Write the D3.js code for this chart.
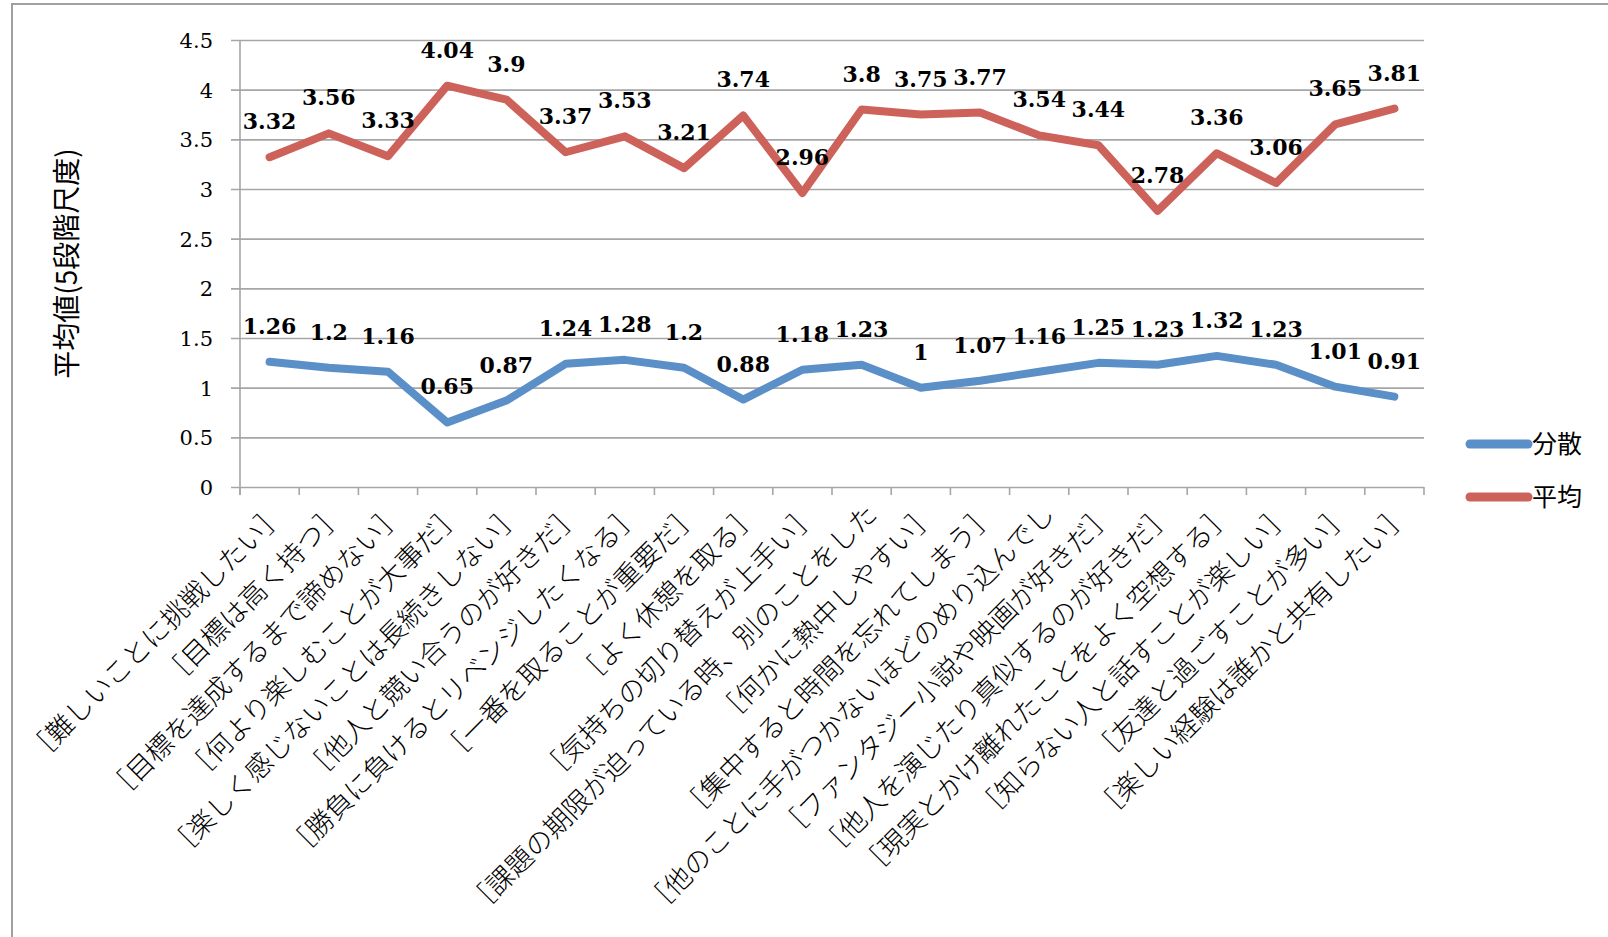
<!DOCTYPE html>
<html>
<head>
<meta charset="utf-8">
<script src="https://cdn.jsdelivr.net/npm/d3@7/dist/d3.min.js"></script>
<style>
  html, body { margin: 0; padding: 0; background: #ffffff; }
  svg { display: block; }
</style>
</head>
<body>
<svg id="chart" width="1608" height="937"></svg>
<script>
// Survey items (5-point scale)
const categories = [
  "［難しいことに挑戦したい］",
  "［目標は高く持つ］",
  "［目標を達成するまで諦めない］",
  "［何より楽しむことが大事だ］",
  "［楽しく感じないことは長続きしない］",
  "［他人と競い合うのが好きだ］",
  "［勝負に負けるとリベンジしたくなる］",
  "［一番を取ることが重要だ］",
  "［よく休憩を取る］",
  "［気持ちの切り替えが上手い］",
  "［課題の期限が迫っている時、別のことをした",
  "［何かに熱中しやすい］",
  "［集中すると時間を忘れてしまう］",
  "［他のことに手がつかないほどのめり込んでし",
  "［ファンタジー小説や映画が好きだ］",
  "［他人を演じたり真似するのが好きだ］",
  "［現実とかけ離れたことをよく空想する］",
  "［知らない人と話すことが楽しい］",
  "［友達と過ごすことが多い］",
  "［楽しい経験は誰かと共有したい］"
];

// 分散
const varianceValues = [1.26, 1.2, 1.16, 0.65, 0.87, 1.24, 1.28, 1.2, 0.88, 1.18,
                        1.23, 1, 1.07, 1.16, 1.25, 1.23, 1.32, 1.23, 1.01, 0.91];
// 平均
const meanValues = [3.32, 3.56, 3.33, 4.04, 3.9, 3.37, 3.53, 3.21, 3.74, 2.96,
                    3.8, 3.75, 3.77, 3.54, 3.44, 2.78, 3.36, 3.06, 3.65, 3.81];

const yTicks = [0, 0.5, 1, 1.5, 2, 2.5, 3, 3.5, 4, 4.5];
const yTitle = "平均値(5段階尺度)";

const seriesNames = ["分散", "平均"];
const seriesColors = ["#5B8FC8", "#CD625A"];

const series = [
  { name: seriesNames[0], color: seriesColors[0], values: varianceValues },
  { name: seriesNames[1], color: seriesColors[1], values: meanValues }
];

const svg = d3.select("#chart");
const plot = { left: 240, right: 1424, top: 40, bottom: 487 };
const gridColor = "#A6A6A6";
const serif = "'DejaVu Serif', 'Liberation Serif', serif";
const cjk = "'Noto Sans CJK JP', 'Noto Sans', sans-serif";

// outer chart frame
svg.append("path")
  .attr("d", "M12,937 L12,4 L1608,4")
  .attr("fill", "none")
  .attr("stroke", "#A0A0A0")
  .attr("stroke-width", 2);

const x = d3.scaleBand().domain(categories).range([plot.left, plot.right]).padding(0);
const y = d3.scaleLinear().domain([0, 4.5]).range([plot.bottom, plot.top]);

// horizontal gridlines + y axis
const yAxis = d3.axisLeft(y)
  .tickValues(yTicks)
  .tickFormat(d3.format("~g"))
  .tickSize(-(plot.right - plot.left))
  .tickSizeOuter(0)
  .tickPadding(0);

const yg = svg.append("g")
  .attr("transform", `translate(${plot.left},0)`)
  .call(yAxis);
yg.select(".domain").remove();
yg.selectAll(".tick line")
  .attr("x1", -9)
  .attr("stroke", gridColor)
  .attr("stroke-width", 1.6);
yg.selectAll(".tick text")
  .attr("x", -27)
  .attr("dy", "0.36em")
  .attr("font-family", serif)
  .attr("font-size", 21)
  .attr("fill", "#000");

// vertical axis line
svg.append("line")
  .attr("x1", plot.left).attr("x2", plot.left)
  .attr("y1", plot.top).attr("y2", plot.bottom + 8)
  .attr("stroke", gridColor).attr("stroke-width", 1.6);

// category boundary ticks on the x axis
const boundaries = categories.map(c => x(c)).concat([x(categories[categories.length - 1]) + x.bandwidth()]);
svg.append("g").selectAll("line")
  .data(boundaries)
  .join("line")
  .attr("x1", d => d).attr("x2", d => d)
  .attr("y1", plot.bottom).attr("y2", plot.bottom + 8)
  .attr("stroke", gridColor).attr("stroke-width", 1.6);

// category labels, rotated
svg.append("g").selectAll("text")
  .data(categories)
  .join("text")
  .attr("transform", c => `translate(${x(c) + x.bandwidth() / 2 + 17},${plot.bottom + 29}) rotate(-45)`)
  .attr("text-anchor", "end")
  .attr("font-family", cjk)
  .attr("font-weight", 300)
  .attr("font-size", 27)
  .attr("fill", "#000")
  .text(c => c);

// y axis title
svg.append("text")
  .attr("transform", `translate(67,${(plot.top + plot.bottom) / 2}) rotate(-90)`)
  .attr("text-anchor", "middle")
  .attr("dy", "0.35em")
  .attr("font-family", cjk)
  .attr("font-size", 28)
  .attr("fill", "#000")
  .text(yTitle);

// series lines
const cx = i => x(categories[i]) + x.bandwidth() / 2;
const line = d3.line().x((d, i) => cx(i)).y(d => y(d));

svg.append("g").selectAll("path")
  .data(series)
  .join("path")
  .attr("d", s => line(s.values))
  .attr("fill", "none")
  .attr("stroke", s => s.color)
  .attr("stroke-width", 8)
  .attr("stroke-linejoin", "round")
  .attr("stroke-linecap", "round");

// data labels
series.forEach(s => {
  svg.append("g").selectAll("text")
    .data(s.values)
    .join("text")
    .attr("x", (d, i) => cx(i))
    .attr("y", d => y(d) - 28)
    .attr("text-anchor", "middle")
    .attr("font-family", serif)
    .attr("font-weight", "bold")
    .attr("font-size", 22)
    .attr("fill", "#000")
    .text(d => String(d));
});

// legend
const legend = svg.append("g").selectAll("g")
  .data(series)
  .join("g")
  .attr("transform", (s, i) => `translate(1470,${444 + i * 53})`);
legend.append("line")
  .attr("x1", 0).attr("x2", 58)
  .attr("stroke", s => s.color)
  .attr("stroke-width", 9)
  .attr("stroke-linecap", "round");
legend.append("text")
  .attr("x", 62)
  .attr("dy", "0.36em")
  .attr("font-family", cjk)
  .attr("font-size", 25)
  .attr("fill", "#000")
  .text(s => s.name);
</script>
</body>
</html>
